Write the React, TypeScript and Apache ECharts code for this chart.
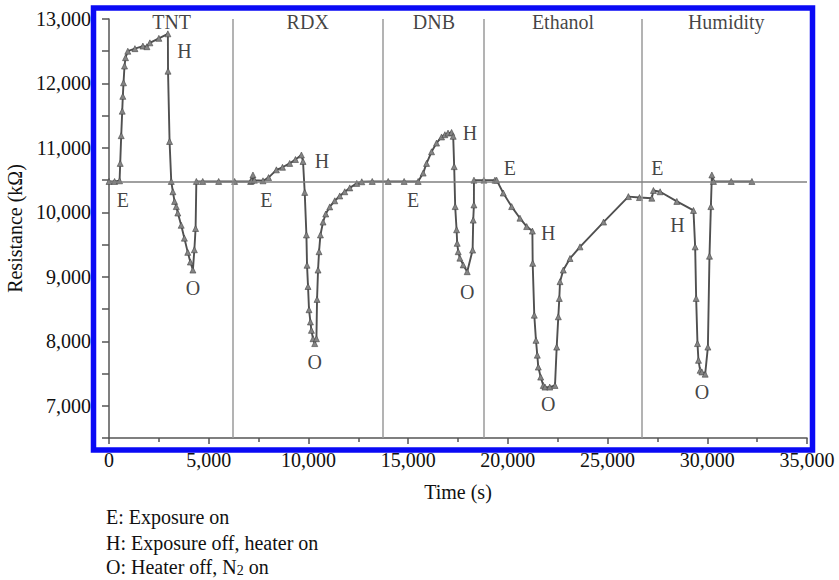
import React, { useEffect, useRef } from "react";
import * as echarts from "echarts";

// ---- data (time in s, resistance in kΩ) ----
const tntPhase: [number, number][] = [
  [0, 10480], [280, 10480], [530, 10490], [562, 10760], [612, 11190], [663, 11570], [693, 11800],
  [728, 12010], [778, 12270], [828, 12400], [944, 12500], [1300, 12540], [1700, 12580], [1900, 12570],
  [2050, 12630], [2500, 12700], [2952, 12770],
  [2960, 12190], [3037, 11100], [3122, 10480], [3203, 10320], [3288, 10170], [3373, 10090], [3450, 9990],
  [3620, 9800], [3780, 9600], [3950, 9380], [4080, 9230], [4207, 9105],
  [4280, 9420], [4342, 9750], [4380, 10480],
];
const rdxPhase: [number, number][] = [
  [4700, 10480], [5500, 10480], [6300, 10480], [7100, 10480], [7150, 10490], [7219, 10580], [7290, 10500],
  [7721, 10490], [8000, 10540], [8394, 10660], [8700, 10700], [9061, 10760], [9350, 10820], [9648, 10890],
  [9729, 10790], [9814, 10310], [9899, 9650], [9930, 9180], [9980, 8850], [10030, 8490], [10100, 8300],
  [10150, 8170], [10231, 8040], [10316, 7965],
  [10401, 8040], [10432, 8650], [10482, 9105], [10532, 9390], [10602, 9650], [10733, 9850], [10868, 9975],
  [11069, 10085], [11320, 10180], [11571, 10255], [11822, 10320], [12073, 10380], [12424, 10450], [12675, 10475],
];
const dnbPhase: [number, number][] = [
  [13200, 10480], [14000, 10480], [14800, 10480], [15502, 10480], [15753, 10610], [15923, 10760],
  [16174, 10940], [16425, 11075], [16676, 11170], [16842, 11205], [17000, 11230], [17178, 11240],
  [17259, 11180], [17309, 10710], [17359, 10090], [17429, 9730], [17460, 9520], [17510, 9390],
  [17595, 9290], [17761, 9185], [17962, 9080],
  [18233, 9415], [18263, 9880], [18298, 10115], [18300, 10500], [18800, 10500], [19352, 10500],
];
const ethanolPhase: [number, number][] = [
  [19437, 10500], [19769, 10300], [20190, 10090], [20607, 9910], [20943, 9780], [21230, 9710],
  [21245, 9210], [21325, 8405], [21410, 8015], [21476, 7785], [21526, 7600], [21646, 7445], [21777, 7315],
  [21862, 7290], [22100, 7290], [22364, 7315],
  [22449, 7910], [22530, 8380], [22580, 8665], [22615, 8925], [22781, 9105], [23117, 9285], [23619, 9465],
  [24800, 9850], [26044, 10245], [26600, 10230], [27218, 10220],
];
const humidityPhase: [number, number][] = [
  [27299, 10340], [27635, 10320], [28473, 10170], [29307, 10030],
  [29392, 9465], [29442, 8665], [29508, 7965], [29558, 7705], [29643, 7550], [29728, 7525], [29894, 7490],
  [30030, 7910], [30110, 9320], [30180, 10090], [30230, 10580], [30311, 10480], [31200, 10480], [32238, 10480],
];

const separatorTimes = [6200, 13730, 18800, 26730];
const baselineResistance = 10480;

const sectionLabels: [number, number, string][] = [
  [3140, 12960, "TNT"], [9965, 12960, "RDX"], [16290, 12960, "DNB"],
  [22765, 12960, "Ethanol"], [30950, 12960, "Humidity"],
];
const eventLabels: [number, number, string][] = [
  [690, 10190, "E"], [3790, 12500, "H"], [4210, 8820, "O"],
  [7890, 10190, "E"], [10680, 10790, "H"], [10320, 7680, "O"],
  [15250, 10190, "E"], [18100, 11230, "H"], [17960, 8770, "O"],
  [20100, 10690, "E"], [22030, 9680, "H"], [22030, 7030, "O"],
  [27500, 10690, "E"], [28500, 9800, "H"], [29730, 7210, "O"],
];

const xTicks = { min: 0, max: 35000, step: 5000 };
const yTicks = { min: 6500, max: 13000, step: 500 };

const FONT = "'Liberation Serif', 'Times New Roman', serif";

export default function App() {
  const ref = useRef<HTMLDivElement>(null);
  useEffect(() => {
    if (!ref.current) return;
    const chart = echarts.init(ref.current, undefined, { renderer: "svg" });
    const curve = [...tntPhase, ...rdxPhase, ...dnbPhase, ...ethanolPhase, ...humidityPhase];
    const fmt = (v: number) => v.toLocaleString("en-US");
    chart.setOption({
      animation: false,
      backgroundColor: "#ffffff",
      textStyle: { fontFamily: FONT },
      grid: { left: 109, top: 19, width: 698, height: 419, outerBoundsMode: "none" },
      xAxis: {
        type: "value",
        min: xTicks.min,
        max: xTicks.max,
        interval: xTicks.step,
        name: "Time (s)",
        nameLocation: "middle",
        nameGap: 44,
        nameTextStyle: { fontSize: 20, color: "#111", fontFamily: FONT },
        axisLine: { show: true, onZero: false, lineStyle: { color: "#555", width: 1.5 } },
        axisTick: { show: true, length: 6, lineStyle: { color: "#555", width: 1.5 } },
        minorTick: { show: true, splitNumber: 2, length: 4, lineStyle: { color: "#555", width: 1.5 } },
        splitLine: { show: false },
        axisLabel: {
          fontSize: 20, color: "#111", fontFamily: FONT, margin: 12,
          showMinLabel: true, showMaxLabel: true,
          formatter: (v: number) => fmt(v),
        },
      },
      yAxis: {
        type: "value",
        min: yTicks.min,
        max: yTicks.max,
        interval: yTicks.step,
        name: "Resistance (kΩ)",
        nameLocation: "middle",
        nameGap: 78,
        nameTextStyle: { fontSize: 20, color: "#111", fontFamily: FONT },
        axisLine: { show: true, onZero: false, lineStyle: { color: "#555", width: 1.5 } },
        axisTick: { show: true, length: 7, lineStyle: { color: "#555", width: 1.5 } },
        splitLine: { show: false },
        axisLabel: {
          fontSize: 20, color: "#111", fontFamily: FONT, margin: 18,
          showMinLabel: true, showMaxLabel: true,
          formatter: (v: number) => (v % 1000 === 0 ? fmt(v) : ""),
        },
      },
      series: [
        {
          type: "line",
          data: [],
          z: 1,
          silent: true,
          markLine: {
            silent: true,
            symbol: ["none", "none"],
            label: { show: false },
            lineStyle: { color: "#9a9a9a", width: 1.5, type: "solid" },
            data: [
              ...separatorTimes.map((t) => ({ xAxis: t })),
              { yAxis: baselineResistance, lineStyle: { color: "#808080", width: 1.5, type: "solid" } },
            ],
          },
        },
        {
          type: "line",
          data: curve,
          z: 3,
          showSymbol: true,
          symbol: "triangle",
          symbolSize: 6,
          lineStyle: { color: "#505050", width: 1.9 },
          itemStyle: { color: "#858585", borderColor: "#444", borderWidth: 0.6 },
        },
        {
          type: "scatter",
          data: [...sectionLabels, ...eventLabels],
          z: 4,
          symbolSize: 0,
          silent: true,
          label: {
            show: true,
            position: "inside",
            fontSize: 20,
            color: "#111",
            fontFamily: FONT,
            formatter: (p: any) => p.value[2],
          },
        },
      ],
      graphic: [
        {
          type: "rect",
          z: 100,
          shape: { x: 93.5, y: 8, width: 719, height: 442 },
          style: { fill: "none", stroke: "#0a0af5", lineWidth: 5.5 },
        },
        {
          type: "text",
          left: 106, top: 507,
          style: { text: "E: Exposure on", fontSize: 20, fontFamily: FONT, fill: "#111" },
        },
        {
          type: "text",
          left: 106, top: 533,
          style: { text: "H: Exposure off, heater on", fontSize: 20, fontFamily: FONT, fill: "#111" },
        },
        {
          type: "text",
          left: 106, top: 556,
          style: {
            text: "O: Heater off, N{sub|2} on",
            fontSize: 20,
            fontFamily: FONT,
            fill: "#111",
            lineHeight: 21,
            rich: { sub: { fontSize: 14, lineHeight: 11, verticalAlign: "bottom", fontFamily: FONT, fill: "#111" } },
          },
        },
      ],
    });
    return () => chart.dispose();
  }, []);
  return <div ref={ref} style={{ position: "fixed", left: 0, top: 0, width: 839, height: 580 }} />;
}
